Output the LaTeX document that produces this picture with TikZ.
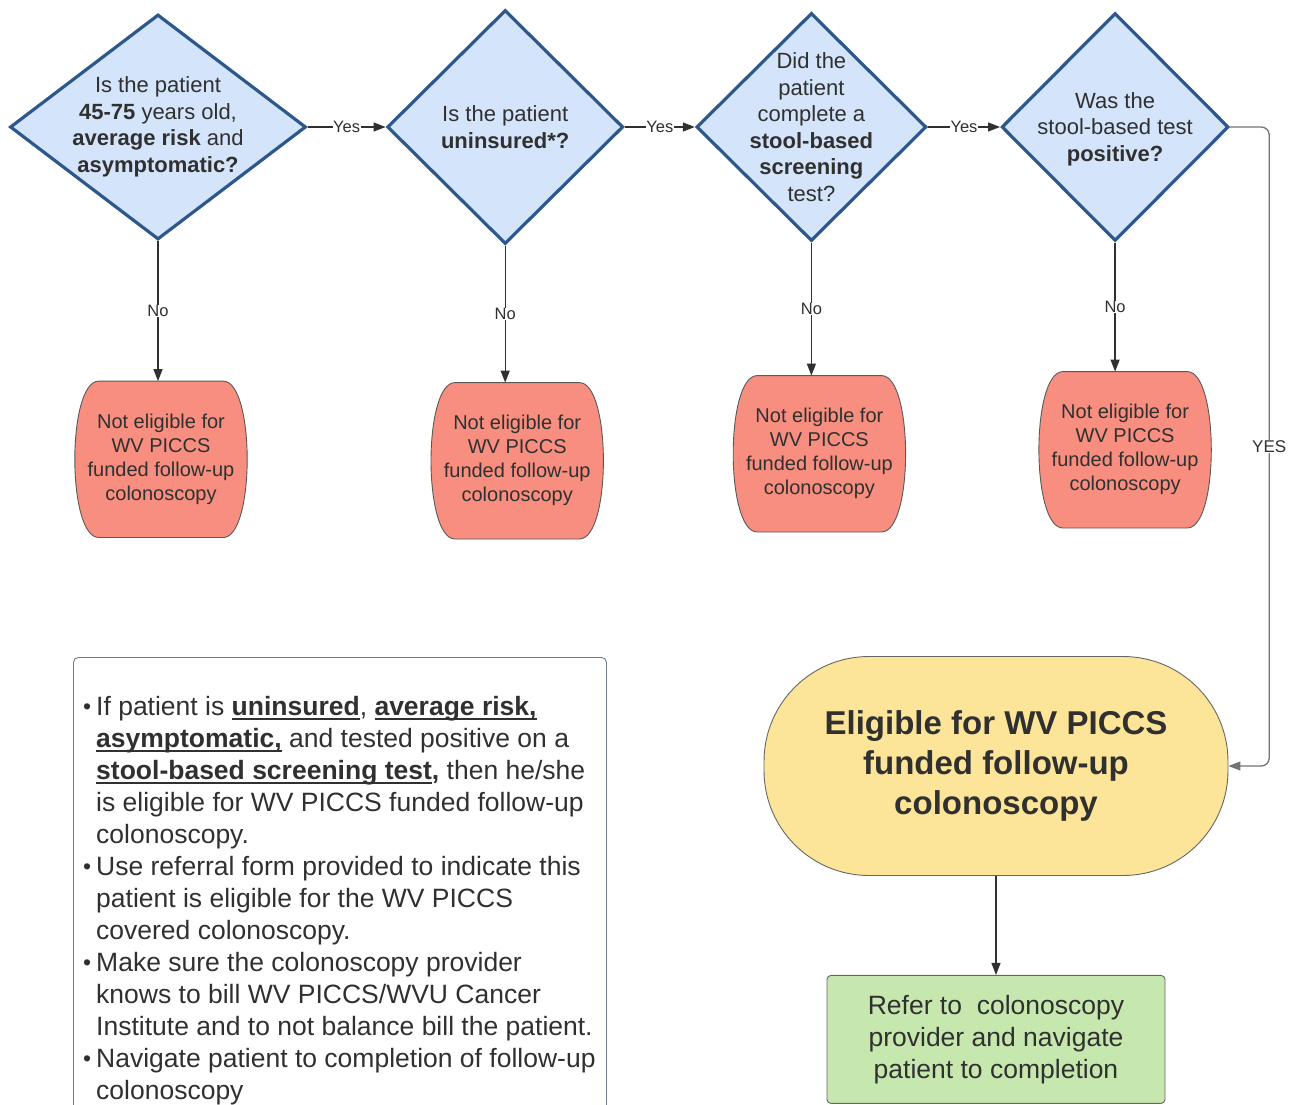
\documentclass[tikz,border=0pt]{standalone}
\usepackage{fontspec}
\setmainfont{Liberation Sans}
\usepackage{tikz}
\usetikzlibrary{arrows.meta,positioning,shapes.geometric,backgrounds}

\definecolor{qfill}{RGB}{212,228,250}
\definecolor{qline}{RGB}{45,88,140}
\definecolor{nofill}{RGB}{248,142,128}
\definecolor{okfill}{RGB}{252,229,153}
\definecolor{reffill}{RGB}{198,232,175}
\definecolor{txt}{RGB}{48,48,48}
\definecolor{boxline}{RGB}{110,122,140}

\newsavebox{\ulbox}
\newcommand{\ulbf}[1]{\sbox{\ulbox}{\textbf{#1}}\rlap{\rule[-4.5pt]{\wd\ulbox}{1.5pt}}\usebox{\ulbox}}
\newcommand{\bul}{\llap{\raisebox{0.5pt}{\fontsize{23}{23}\selectfont\textbullet}\hspace{5pt}}}
\newcommand{\drawbarrel}[1]{%
  \draw[barrelline] ([xshift=24pt]#1.north west) -- ([xshift=-24pt]#1.north east)
    .. controls ([xshift=8pt]#1.north east) and ([xshift=8pt]#1.south east) .. ([xshift=-24pt]#1.south east)
    -- ([xshift=24pt]#1.south west)
    .. controls ([xshift=-8pt]#1.south west) and ([xshift=-8pt]#1.north west) .. cycle;}

\begin{document}
\begin{tikzpicture}[x=1pt, y=-1pt,
  decision/.style={diamond, draw=qline, line width=3.2pt, fill=qfill, inner sep=0pt},
  qtext/.style={align=center, text=txt, font=\fontsize{22}{26.5}\selectfont},
  noelig/.style={align=center, text=txt, minimum width=172pt, minimum height=156pt, font=\fontsize{20}{24}\selectfont},
  barrelline/.style={draw=black!65, fill=nofill, line width=0.9pt},
  eligible/.style={draw=black!60, fill=okfill, rounded corners=105pt, line width=0.9pt, minimum width=464pt, minimum height=219pt, align=center, text=txt, font=\bfseries\fontsize{33}{40}\selectfont},
  refer/.style={draw=black!60, fill=reffill, rounded corners=4pt, line width=0.9pt, minimum width=338pt, minimum height=128pt, align=center, text=txt, font=\fontsize{26.5}{32}\selectfont},
  notebox/.style={draw=boxline, rounded corners=5pt, line width=0.9pt, minimum width=533pt, minimum height=470pt},
  notetext/.style={align=left, text=txt, inner sep=0pt, font=\fontsize{26.5}{32}\selectfont},
  flow/.style={-{Triangle[length=12pt,width=9pt]}, line width=1.3pt, draw=txt},
  lbl/.style={fill=white, inner sep=0.5pt, text=txt, font=\fontsize{16.5}{16.5}\selectfont}
]
\useasboundingbox (0,0) rectangle (1299,1105);

% questions
\node[decision, minimum width=296pt, minimum height=225pt] (q1) at (158,127) {};
\node[decision, minimum width=236pt, minimum height=234pt, right=78pt of q1] (q2) {};
\node[decision, minimum width=230pt, minimum height=228pt, right=70pt of q2] (q3) {};
\node[decision, minimum width=227pt, minimum height=228pt, right=72pt of q3] (q4) {};

\node[qtext] (q1t) at (q1) {Is the patient\\\textbf{45-75} years old,\\\textbf{average risk} and\\\textbf{asymptomatic?}};
\node[qtext] (q2t) at (q2) {Is the patient\\\textbf{uninsured*?}};
\node[qtext] (q3t) at (q3) {Did the\\patient\\complete a\\\textbf{stool-based}\\\textbf{screening}\\test?};
\node[qtext, yshift=-2pt] (q4t) at (q4) {Was the\\stool-based test\\\textbf{positive?}};

% not eligible
\node[noelig, below=140pt of q1, xshift=3pt] (n1) {Not eligible for\\WV PICCS\\funded follow-up\\colonoscopy};
\node[noelig, below=137pt of q2, xshift=12pt] (n2) {Not eligible for\\WV PICCS\\funded follow-up\\colonoscopy};
\node[noelig, below=133pt of q3, xshift=8pt] (n3) {Not eligible for\\WV PICCS\\funded follow-up\\colonoscopy};
\node[noelig, below=129pt of q4, xshift=10pt] (n4) {Not eligible for\\WV PICCS\\funded follow-up\\colonoscopy};
\begin{scope}[on background layer]
\drawbarrel{n1}
\drawbarrel{n2}
\drawbarrel{n3}
\drawbarrel{n4}
\end{scope}

% eligible
\node[eligible] (elig) at (996,766) {Eligible for WV PICCS\\funded follow-up\\colonoscopy};
\node[refer, below=99pt of elig] (refer) {Refer to\ \ colonoscopy\\provider and navigate\\patient to completion};

% notes
\node[notebox, anchor=north west] (notes) at (73,657) {};
\node[notetext, anchor=north west] (notetxt) at ([xshift=23pt, yshift=-39pt]notes.north west) {%
\bul If patient is \ulbf{uninsured}, \ulbf{average risk,}\\
\ulbf{asymptomatic,} and tested positive on a\\
\ulbf{stool-based screening test}\textbf{,} then he/she\\
is eligible for WV PICCS funded follow-up\\
colonoscopy.\\
\bul Use referral form provided to indicate this\\
patient is eligible for the WV PICCS\\
covered colonoscopy.\\
\bul Make sure the colonoscopy provider\\
knows to bill WV PICCS/WVU Cancer\\
Institute and to not balance bill the patient.\\
\bul Navigate patient to completion of follow-up\\
colonoscopy};

% connectors
\draw[flow] (q1.east) -- node[lbl]{Yes} (q2.west);
\draw[flow] (q2.east) -- node[lbl]{Yes} (q3.west);
\draw[flow] (q3.east) -- node[lbl]{Yes} (q4.west);
\draw[flow] (q1.south) -- node[lbl]{No} (q1.south |- n1.north);
\draw[flow] (q2.south) -- node[lbl]{No} (q2.south |- n2.north);
\draw[flow] (q3.south) -- node[lbl]{No} (q3.south |- n3.north);
\draw[flow] (q4.south) -- node[lbl]{No} (q4.south |- n4.north);
\draw[flow, draw=black!55, rounded corners=8pt] (q4.east) -- ++(39pt,0) |- node[lbl, pos=0.25, font=\fontsize{17}{17}\selectfont]{YES} (elig.east);
\draw[flow] (elig) -- (refer);
\end{tikzpicture}
\end{document}
